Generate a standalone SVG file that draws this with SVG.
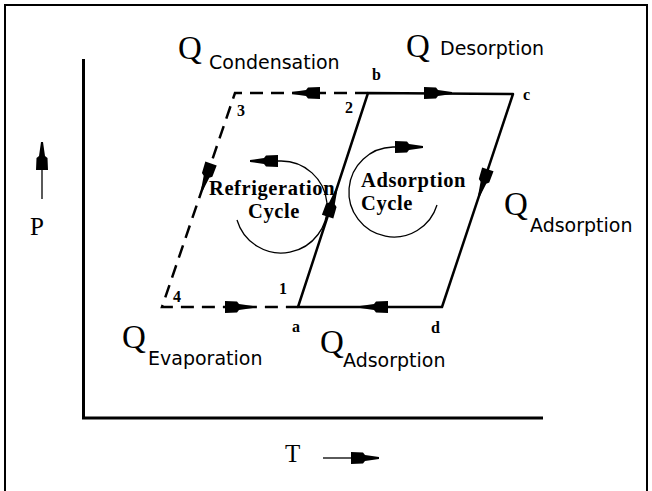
<svg xmlns="http://www.w3.org/2000/svg" width="652" height="491" viewBox="0 0 652 491">
<defs>
<style>
.frame{fill:none;stroke:#000;stroke-width:2}
.axis{fill:none;stroke:#000;stroke-width:3}
.solid{fill:none;stroke:#000;stroke-width:2.5;stroke-linejoin:round}
.dash{fill:none;stroke:#000;stroke-width:2.5;stroke-dasharray:13 8}
.thin{fill:none;stroke:#000;stroke-width:1.3}
.arr{fill:#000}
.q{font-family:"Liberation Serif","Times New Roman",serif;font-size:33px;fill:#000}
.sub{font-family:"DejaVu Sans",Verdana,sans-serif;font-size:19px;fill:#000}
.pt{font-family:"Liberation Serif","Times New Roman",serif;font-size:16px;font-weight:bold;fill:#000}
.cyc{font-family:"Liberation Serif","Times New Roman",serif;font-size:20.5px;font-weight:bold;letter-spacing:0.6px;fill:#000}
.ax{font-family:"Liberation Serif","Times New Roman",serif;font-size:25px;fill:#000}
</style>
<path id="ah" d="M0,-1 L-14,-3 L-16,-5.5 L-28,-6 L-28,6 L-16,5.5 L-14,3 L0,1 Z"/>
</defs>
<rect width="652" height="491" fill="#fff"/>
<rect class="frame" x="5" y="5" width="642" height="492"/>

<g id="axes">
<line class="axis" x1="83.5" y1="59" x2="83.5" y2="419"/>
<line class="axis" x1="82" y1="418" x2="543" y2="418"/>
<line class="thin" x1="42" y1="199" x2="42" y2="170"/>
<use href="#ah" class="arr" transform="translate(42,142) rotate(-90)"/>
<text class="ax" x="30" y="235">P</text>
<line class="thin" x1="323" y1="458" x2="352" y2="458"/>
<use href="#ah" class="arr" transform="translate(379,458)"/>
<text class="ax" x="285" y="462">T</text>
</g>

<g id="connectors">
<path class="dash" d="M368,93 L235,93 L162,307 L298,307"/>
<path class="solid" d="M298,307 L368,93 L513,94 L442,307 Z"/>
<use href="#ah" class="arr" transform="translate(292,93) rotate(180)"/>
<use href="#ah" class="arr" transform="translate(452,93)"/>
<use href="#ah" class="arr" transform="translate(253,307)"/>
<use href="#ah" class="arr" transform="translate(360,307) rotate(180)"/>
<use href="#ah" class="arr" transform="translate(202,190) rotate(108.8)"/>
<use href="#ah" class="arr" transform="translate(336.3,190) rotate(-71.9)"/>
<use href="#ah" class="arr" transform="translate(479,196) rotate(108.4)"/>
</g>

<g id="refrigeration-cycle">
<path class="thin" d="M237,220 A46,46 0 1 0 281,161 L262,161"/>
<use href="#ah" class="arr" transform="translate(250,161) rotate(180)"/>
<text class="cyc" x="209" y="195">Refrigeration</text>
<text class="cyc" x="248" y="218">Cycle</text>
</g>

<g id="adsorption-cycle">
<path class="thin" d="M437,205 A45,45 0 1 1 393,147 L410,147"/>
<use href="#ah" class="arr" transform="translate(423,147)"/>
<text class="cyc" x="361" y="187">Adsorption</text>
<text class="cyc" x="361" y="210">Cycle</text>
</g>

<g id="point-labels">
<text class="pt" x="237" y="116">3</text>
<text class="pt" x="345" y="113">2</text>
<text class="pt" x="372" y="80">b</text>
<text class="pt" x="523" y="100">c</text>
<text class="pt" x="279" y="294">1</text>
<text class="pt" x="173" y="302">4</text>
<text class="pt" x="292" y="332">a</text>
<text class="pt" x="431" y="333">d</text>
</g>

<g id="q-condensation"><text class="q" x="178" y="59">Q</text><text class="sub" x="209" y="69">Condensation</text></g>
<g id="q-desorption"><text class="q" x="406" y="57">Q</text><text class="sub" x="440" y="55">Desorption</text></g>
<g id="q-evaporation"><text class="q" x="122" y="348">Q</text><text class="sub" x="148" y="365">Evaporation</text></g>
<g id="q-adsorption-bottom"><text class="q" x="320" y="353">Q</text><text class="sub" x="343" y="367">Adsorption</text></g>
<g id="q-adsorption-right"><text class="q" x="504" y="215">Q</text><text class="sub" x="530" y="232">Adsorption</text></g>
</svg>
